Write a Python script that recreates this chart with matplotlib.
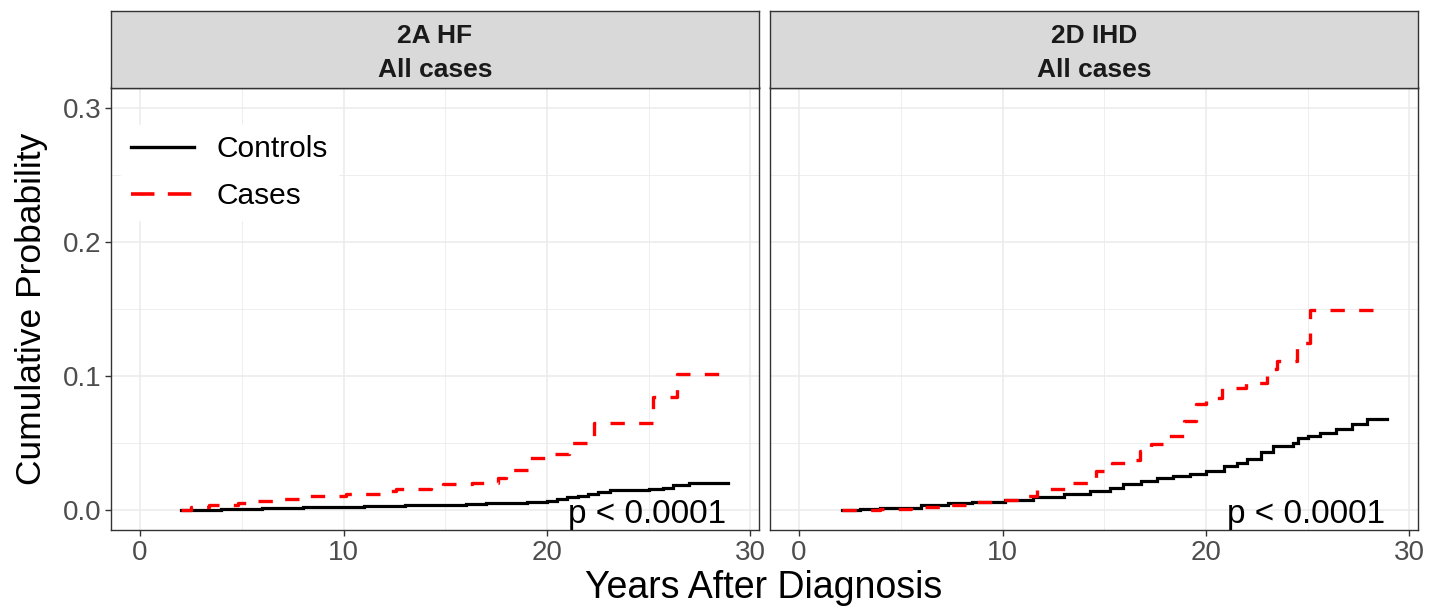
import matplotlib
matplotlib.use("Agg")
import matplotlib.pyplot as plt
from matplotlib.lines import Line2D
from matplotlib.ticker import FixedLocator

plt.rcParams['font.family'] = ['Liberation Sans', 'DejaVu Sans']

# ---------------- data ----------------
panel_titles = [("2A HF", "All cases"), ("2D IHD", "All cases")]
series_labels = ["Controls", "Cases"]
p_labels = ["p < 0.0001", "p < 0.0001"]

# 2A HF - controls
hf_ctrl_t = [2.0, 3.0, 4.0, 5.0, 6.0, 7.0, 8.0, 9.0, 10.0, 11.0, 12.0, 13.0, 14.0, 15.0,
             16.0, 17.0, 18.0, 19.0, 19.6, 20.0, 20.5, 21.0, 21.5, 22.0, 22.5, 23.1,
             24.0, 25.0, 25.7, 26.2, 27.0, 28.9]
hf_ctrl_y = [0.0, 0.0002, 0.0005, 0.0008, 0.0012, 0.0015, 0.0018, 0.0021, 0.0024, 0.0027,
             0.0030, 0.0033, 0.0036, 0.0040, 0.0045, 0.0049, 0.0053, 0.0058, 0.0062, 0.0068,
             0.0080, 0.0095, 0.0105, 0.0118, 0.0132, 0.0148, 0.0152, 0.0158, 0.0166, 0.0182,
             0.0204, 0.0204]
# 2A HF - cases
hf_case_t = [2.0, 2.5, 3.4, 4.8, 5.7, 6.6, 8.0, 10.1, 12.0, 12.6, 14.3, 14.9, 16.3, 17.6,
             18.0, 19.1, 20.1, 21.1, 22.3, 25.2, 26.4, 28.9]
hf_case_y = [0.0, 0.0020, 0.0040, 0.0054, 0.0064, 0.0084, 0.0100, 0.0121, 0.0141, 0.0153,
             0.0170, 0.0190, 0.0204, 0.0236, 0.0295, 0.0386, 0.0418, 0.0497, 0.0650, 0.0841,
             0.1010, 0.1010]

# 2D IHD - controls
ihd_ctrl_t = [2.1, 3.0, 4.0, 4.8, 6.0, 7.3, 8.5, 10.1, 11.5, 13.0, 14.3, 15.3, 15.9, 16.8,
              17.6, 18.4, 19.2, 20.0, 20.9, 21.5, 22.0, 22.7, 23.3, 24.3, 24.5, 25.0, 25.6,
              26.4, 27.2, 27.9, 28.9]
ihd_ctrl_y = [0.0, 0.0006, 0.0011, 0.0015, 0.0033, 0.0050, 0.0062, 0.0076, 0.0095, 0.0116,
              0.0141, 0.0160, 0.0190, 0.0215, 0.0236, 0.0252, 0.0270, 0.0290, 0.0327, 0.0352,
              0.0380, 0.0430, 0.0480, 0.0496, 0.0533, 0.0550, 0.0576, 0.0600, 0.0643, 0.0680,
              0.0680]
# 2D IHD - cases
ihd_case_t = [2.1, 4.0, 5.5, 7.0, 8.5, 10.0, 10.8, 11.7, 13.2, 14.3, 14.6, 15.4, 16.0, 16.75,
              17.3, 18.15, 18.9, 19.5, 20.0, 20.8, 21.98, 22.98, 23.5, 24.45, 25.1, 28.35]
ihd_case_y = [0.0, 0.0010, 0.0025, 0.0040, 0.0058, 0.0075, 0.0101, 0.0154, 0.0200, 0.0222,
              0.0290, 0.0352, 0.0370, 0.0440, 0.0490, 0.0550, 0.0660, 0.0786, 0.0836, 0.0910,
              0.0947, 0.1047, 0.1113, 0.1245, 0.1490, 0.1490]

x_major = [0, 10, 20, 30]
x_minor = [5, 15, 25]
y_major = [0.0, 0.1, 0.2, 0.3]
y_minor = [0.05, 0.15, 0.25]
y_ticklabels = ["0.0", "0.1", "0.2", "0.3"]

# ---------------- layout ----------------
W, H = 1429, 612
fig = plt.figure(figsize=(W / 100, H / 100), dpi=100)
fig.patch.set_facecolor("white")

def fx(px):
    return px / W

def fy(py):
    return 1 - py / H

panel_x = [(111, 759), (770, 1418)]
top, bottom = 87.5, 530
strip_top = 11

ctrl_color = "black"
case_color = "#FF0000"
border_col = "#333333"
grid_col = "#EBEBEB"

data = [(hf_ctrl_t, hf_ctrl_y, hf_case_t, hf_case_y),
        (ihd_ctrl_t, ihd_ctrl_y, ihd_case_t, ihd_case_y)]

axes = []
for i, (x0, x1) in enumerate(panel_x):
    ax = fig.add_axes([fx(x0), fy(bottom), (x1 - x0) / W, (bottom - top) / H])
    axes.append(ax)
    ax.set_xlim(-1.43, 30.42)
    ax.set_ylim(-0.015, 0.315)
    ax.xaxis.set_major_locator(FixedLocator(x_major))
    ax.xaxis.set_minor_locator(FixedLocator(x_minor))
    ax.yaxis.set_major_locator(FixedLocator(y_major))
    ax.yaxis.set_minor_locator(FixedLocator(y_minor))
    ax.grid(which="major", color=grid_col, lw=1.1)
    ax.grid(which="minor", color=grid_col, lw=0.6)
    ax.set_axisbelow(True)
    for s in ax.spines.values():
        s.set_color(border_col)
        s.set_linewidth(1.0)
    ax.tick_params(which="major", length=4, width=1.0, color=border_col,
                   labelsize=20, labelcolor="#4D4D4D", pad=3)
    ax.tick_params(which="minor", length=0)
    if i == 0:
        ax.set_yticklabels(y_ticklabels)
    else:
        ax.tick_params(axis="y", which="both", left=False, labelleft=False)

    ct, cy, kt, ky = data[i]
    ax.plot(ct, cy, drawstyle="steps-post", color=ctrl_color, lw=2.3,
            solid_joinstyle="miter", label=series_labels[0])
    ax.plot(kt, ky, drawstyle="steps-post", color=case_color, lw=2.4,
            linestyle=(0, (4.3, 4.3)), dash_capstyle="butt", label=series_labels[1])

    ax.text(28.8, -0.0097, p_labels[i], ha="right", va="baseline",
            fontsize=24, color="black")

    # strip
    sax = fig.add_axes([fx(x0), fy(top), (x1 - x0) / W, (top - strip_top) / H])
    sax.set_facecolor("#D9D9D9")
    sax.set_xticks([])
    sax.set_yticks([])
    for s in sax.spines.values():
        s.set_color(border_col)
        s.set_linewidth(1.0)
    h = top - strip_top
    sax.text(0.5, (top - 43) / h, panel_titles[i][0], ha="center", va="baseline",
             fontsize=19, fontweight="bold", color="#1A1A1A", transform=sax.transAxes)
    sax.text(0.5, (top - 77) / h, panel_titles[i][1], ha="center", va="baseline",
             fontsize=19, fontweight="bold", color="#1A1A1A", transform=sax.transAxes)

# legend in the left panel
handles = [Line2D([0], [0], color=ctrl_color, lw=2.4),
           Line2D([0], [0], color=case_color, lw=2.6, linestyle=(0, (6.5, 3.7)))]
leg = axes[0].legend(handles, series_labels, loc="upper left",
                     bbox_to_anchor=(fx(121), fy(125)), bbox_transform=fig.transFigure,
                     fontsize=21.5, frameon=True, facecolor="white", edgecolor="white",
                     framealpha=1.0, fancybox=False, handlelength=2.1, handletextpad=0.75,
                     labelspacing=0.62, borderpad=0.35, borderaxespad=0)

# axis titles
fig.text(fx(764), fy(598), "Years After Diagnosis", ha="center", va="baseline",
         fontsize=27, color="black")
fig.text(fx(32), fy(309), "Cumulative Probability", ha="center", va="center",
         rotation=90, fontsize=25.5, color="black")

fig.savefig("out.png", dpi=100, facecolor="white")
